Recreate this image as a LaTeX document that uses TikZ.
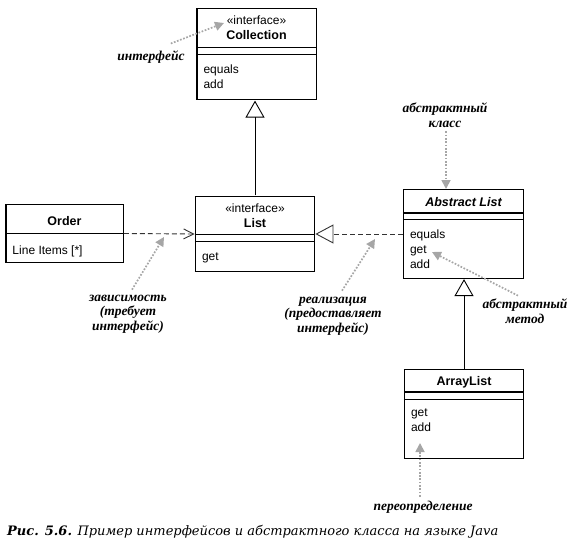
\documentclass[tikz,border=0pt]{standalone}
\usepackage{fontspec}
\usepackage{array}
\setmainfont{Liberation Sans}
\newfontfamily\notefont{Liberation Serif}
\newfontfamily\capfont{DejaVu Serif}
\usetikzlibrary{arrows.meta,positioning}

\setlength{\tabcolsep}{6pt}
\setlength{\arrayrulewidth}{1.2pt}
\renewcommand{\arraystretch}{0}
\newcommand{\topsp}[1]{\rule{0pt}{#1pt}}
\newcommand{\botsp}[1]{\rule[-#1pt]{0pt}{#1pt}}
\newcommand{\nm}[1]{{\fontsize{12.5}{15}\selectfont\bfseries #1}}

\begin{document}
\begin{tikzpicture}[x=1pt,y=-1pt,
    font=\fontsize{12}{15}\selectfont,
    cls/.style={inner sep=0pt},
    gen/.style={line width=0.9pt,-{Triangle[open,length=17pt,width=19pt]}},
    dep/.style={line width=0.9pt,black!80,dash pattern=on 5pt off 3pt,-{Straight Barb[length=10pt,width=10pt]}},
    real/.style={line width=0.9pt,black!80,dash pattern=on 5pt off 3pt,-{Triangle[open,length=18pt,width=19pt]}},
    note/.style={gray!70,line width=1.7pt,dash pattern=on 1.7pt off 1.6pt,-{Triangle[length=9pt,width=9pt]}},
    notetext/.style={font=\notefont\bfseries\itshape\fontsize{13.5}{14.5}\selectfont,align=center,inner sep=0pt}]
    \useasboundingbox (0,0) rectangle (577,548);

    % classes
    \node[cls] (coll) at (256.5,54) {
        \begin{tabular}{ |p{106pt}| }
            \hline \centering\topsp{16}«interface»\par\nm{Collection}\botsp{7}\tabularnewline
            \hline \topsp{6}\tabularnewline
            \hline \topsp{18}equals\newline add\botsp{11}\tabularnewline
            \hline
        \end{tabular}
    };
    \node[cls] (list) at (255,234) {
        \begin{tabular}{ |p{106pt}| }
            \hline \centering\topsp{16}«interface»\par\nm{List}\botsp{6}\tabularnewline
            \hline \topsp{6}\tabularnewline
            \hline \topsp{18}get\botsp{11}\tabularnewline
            \hline
        \end{tabular}
    };
    \node[cls] (order) at (64.5,233.5) {
        \begin{tabular}{ |p{104pt}| }
            \hline \centering\topsp{21}\nm{Order}\botsp{7}\tabularnewline
            \hline \topsp{20}Line Items [*]\botsp{8}\tabularnewline
            \hline
        \end{tabular}
    };
    \node[cls] (abs) at (463.5,234) {
        \begin{tabular}{ |p{107pt}| }
            \hline \centering\topsp{16}\nm{\itshape Abstract List}\botsp{6}\tabularnewline
            \hline \topsp{5}\tabularnewline
            \hline \topsp{19}equals\newline get\newline add\botsp{9}\tabularnewline
            \hline
        \end{tabular}
    };
    \node[cls] (arr) at (464,414) {
        \begin{tabular}{ |p{106pt}| }
            \hline \centering\topsp{15}\nm{ArrayList}\botsp{6}\tabularnewline
            \hline \topsp{6}\tabularnewline
            \hline \topsp{17}get\newline add\botsp{26}\tabularnewline
            \hline
        \end{tabular}
    };

    \draw[gen] (list.north) -- (list.north |- coll.south);
    \draw[gen] (arr.north) -- (arr.north |- abs.south);
    \draw[dep] (order.east) -- (list.west);
    \draw[real] (abs.west) -- (list.east);

    % notes
    \node[notetext] (nIfc) at (151,57) {интерфейс};
    \node[notetext] (nAbsCls) at (445,115) {абстрактный\\класс};
    \node[notetext] (nDep) at (128,314) {зависимость\\(требует\\интерфейс)};
    \node[notetext] (nReal) at (333,316) {реализация\\(предоставляет\\интерфейс)};
    \node[notetext] (nAbsM) at (525,311) {абстрактный\\метод};
    \node[notetext] (nOvr) at (423,507) {переопределение};

    \coordinate (tIfc) at (224,23);
    \coordinate (tAbsCls) at (446,189);
    \coordinate (tDep) at (164,237);
    \coordinate (tReal) at (375,239);
    \coordinate (tAbsM) at (432,252);
    \coordinate (tOvr) at (420,443);

    \draw[note] (nIfc.north east) ++(-14,-7) -- (tIfc);
    \draw[note] (nAbsCls.south -| tAbsCls) ++(0,4) -- (tAbsCls);
    \draw[note] (nDep.north) ++(4,-5) -- (tDep);
    \draw[note] (nReal.north) ++(9,-6) -- (tReal);
    \draw[note] (nAbsM.north) ++(-7,-3) -- (tAbsM);
    \draw[note] (nOvr.north -| tOvr) ++(0,-4) -- (tOvr);

    \node[anchor=base west,inner sep=0pt,font=\capfont\itshape\fontsize{13}{15}\selectfont] (cap) at (7,535)
        {\textbf{Рис. 5.6.} Пример интерфейсов и абстрактного класса на языке Java};
\end{tikzpicture}
\end{document}
